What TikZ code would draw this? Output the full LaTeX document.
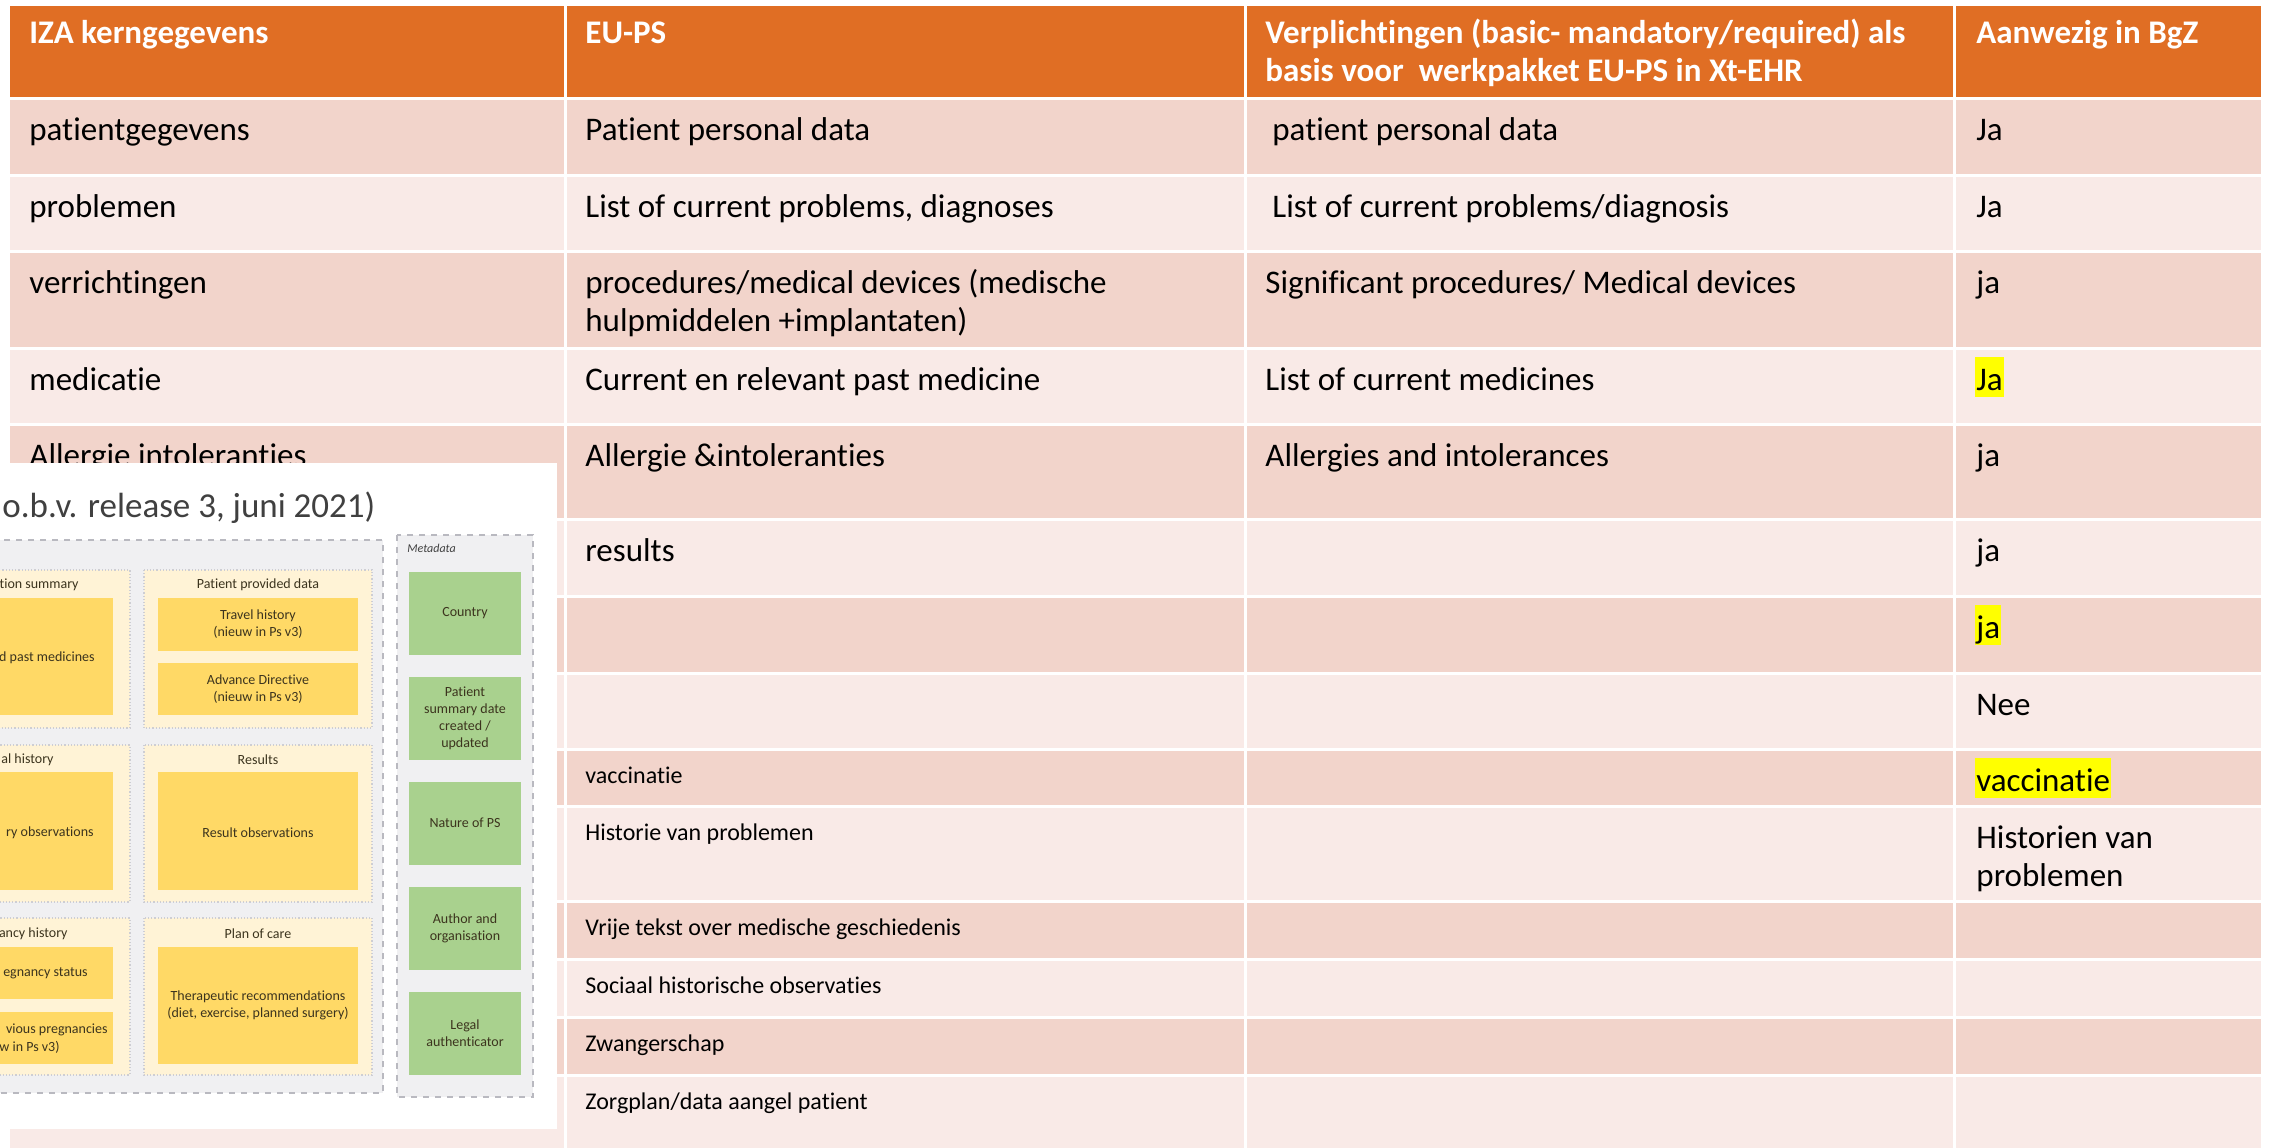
\documentclass[tikz,border=0pt]{standalone}
\usepackage{fontspec}
\setmainfont{Carlito}[Ligatures=CommonOff]
\usetikzlibrary{positioning}
\definecolor{kop}{RGB}{224,110,36}
\definecolor{rijdonker}{RGB}{242,212,203}
\definecolor{rijlicht}{RGB}{249,234,231}
\definecolor{markeer}{RGB}{255,255,0}
\definecolor{vlakgrijs}{RGB}{240,240,242}
\definecolor{vlakroom}{RGB}{255,243,214}
\definecolor{geel}{RGB}{255,217,102}
\definecolor{groen}{RGB}{169,209,142}
\definecolor{rand}{RGB}{185,185,192}
\definecolor{inkt}{RGB}{60,52,30}
\definecolor{titelgrijs}{RGB}{64,64,64}

\tikzset{
  kopje/.style={anchor=base west,inner sep=0pt,align=left,text=white,font=\bfseries\fontsize{16.5}{19}\selectfont},
  cel/.style={anchor=base west,inner sep=0pt,align=left,font=\fontsize{16.5}{19}\selectfont},
  celklein/.style={anchor=base west,inner sep=0pt,font=\fontsize{12}{14}\selectfont},
  markering/.style={fill=markeer,inner xsep=0.5pt,inner ysep=0pt,text height=16.5pt,text depth=3.5pt},
  blok/.style={inner sep=0pt,align=center,text=inkt,font=\fontsize{7}{8.5}\selectfont},
  panel/.style={fill=vlakgrijs,draw=rand,dashed,line width=0.6pt},
  room/.style={fill=vlakroom,draw=rand!70,densely dotted,line width=0.6pt},
}

\begin{document}
\begin{tikzpicture}[x=0.5pt,y=-0.5pt]
\useasboundingbox (0,0) rectangle (2270,1147);
\clip (0,0) rectangle (2270,1147);

% kopregel en rijen
\foreach \links/\rechts in {10/564,567/1244,1247/1953,1956/2261}{
  \fill[kop] (\links,6) rectangle (\rechts,97);
  \foreach \boven/\onder/\kleur in {100/174/rijdonker,177/250/rijlicht,253/347/rijdonker,
      350/423/rijlicht,426/518/rijdonker,521/595/rijlicht,598/672/rijdonker,675/748/rijlicht,
      751/805/rijdonker,808/900/rijlicht,903/958/rijdonker,961/1016/rijlicht,
      1019/1074/rijdonker,1077/1160/rijlicht}
    \fill[\kleur] (\links,\boven) rectangle (\rechts,\onder);
}

% tekst met twee regels: basislijn van de laatste regel
\node[kopje] (k1) at (29,43) {IZA kerngegevens};
\node[kopje] (k2) at (585,43) {EU-PS};
\node[kopje] (k3) at (1265,81) {Verplichtingen (basic- mandatory/required) als\\basis voor\ \ werkpakket EU-PS in Xt-EHR};
\node[kopje] (k4) at (1976,43) {Aanwezig in BgZ};

% IZA
\node[cel] (a1) at (29,140) {patientgegevens};
\node[cel] (a2) at (29,217) {problemen};
\node[cel] (a3) at (29,293) {verrichtingen};
\node[cel] (a4) at (29,390) {medicatie};
\node[cel] (a5) at (29,466) {Allergie intoleranties};

% EU-PS
\node[cel] (b1) at (585,140) {Patient personal data};
\node[cel] (b2) at (585,217) {List of current problems, diagnoses};
\node[cel] (b3) at (585,331) {procedures/medical devices (medische\\hulpmiddelen +implantaten)};
\node[cel] (b4) at (585,390) {Current en relevant past medicine};
\node[cel] (b5) at (585,466) {Allergie \&intoleranties};
\node[cel] (b6) at (585,561) {results};
\node[celklein] (b9) at (585,783) {vaccinatie};
\node[celklein] (b10) at (585,840) {Historie van problemen};
\node[celklein] (b11) at (585,935) {Vrije tekst over medische geschiedenis};
\node[celklein] (b12) at (585,993) {Sociaal historische observaties};
\node[celklein] (b13) at (585,1051) {Zwangerschap};
\node[celklein] (b14) at (585,1109) {Zorgplan/data aangel patient};

% verplichtingen
\node[cel] (c1) at (1272,140) {patient personal data};
\node[cel] (c2) at (1272,217) {List of current problems/diagnosis};
\node[cel] (c3) at (1265,293) {Significant procedures/ Medical devices};
\node[cel] (c4) at (1265,390) {List of current medicines};
\node[cel] (c5) at (1265,466) {Allergies and intolerances};

% aanwezig in BgZ
\node[cel] (d1) at (1976,140) {Ja};
\node[cel] (d2) at (1976,217) {Ja};
\node[cel] (d3) at (1976,293) {ja};
\node[cel,markering] (d4) at (1975,390) {Ja};
\node[cel] (d5) at (1976,466) {ja};
\node[cel] (d6) at (1976,561) {ja};
\node[cel,markering] (d7) at (1975,638) {ja};
\node[cel] (d8) at (1976,715) {Nee};
\node[cel,markering] (d9) at (1975,791) {vaccinatie};
\node[cel] (d10) at (1976,886) {Historien van\\problemen};

% ingevoegde schermafbeelding
\fill[white] (0,463) rectangle (557,1129);
\begin{scope}
\clip (0,463) rectangle (557,1129);
\node[anchor=base west,inner sep=0pt,text=titelgrijs,font=\fontsize{17.5}{20}\selectfont] (titel) at (2,517) {o.b.v. release 3, juni 2021)};
\filldraw[panel] (-10,540) rectangle (383,1093);
\filldraw[panel] (397,535) rectangle (533,1097);
\node[anchor=west,inner sep=0pt,text=titelgrijs,font=\itshape\fontsize{6}{7}\selectfont] (meta) at (407,548) {Metadata};

\foreach \boven/\onder in {570/728,745/902,918/1075}{
  \filldraw[room] (-10,\boven) rectangle (130,\onder);
  \filldraw[room] (144,\boven) rectangle (372,\onder);
}
\fill[geel] (-10,598) rectangle (113,715);
\fill[geel] (158,598) rectangle (358,651);
\fill[geel] (158,663) rectangle (358,715);
\fill[geel] (-10,772) rectangle (113,890);
\fill[geel] (158,772) rectangle (358,890);
\fill[geel] (-10,947) rectangle (113,999);
\fill[geel] (-10,1012) rectangle (113,1064);
\fill[geel] (158,947) rectangle (358,1064);
\foreach \boven in {572,677,782,887,992}
  \fill[groen] (409,\boven) rectangle (521,\boven+83);

\node[blok,anchor=east] (s1) at (79,585) {ation summary};
\node[blok,anchor=east] (s2) at (95,658) {d past medicines};
\node[blok] (p1) at (258,585) {Patient provided data};
\node[blok] (p2) at (258,624) {Travel history\\(nieuw in Ps v3)};
\node[blok] (p3) at (258,689) {Advance Directive\\(nieuw in Ps v3)};
\node[blok,anchor=east] (h1) at (54,760) {al history};
\node[blok,anchor=east] (h2) at (94,833) {ry observations};
\node[blok] (r1) at (258,760) {Results};
\node[blok] (r2) at (258,833) {Result observations};
\node[blok,anchor=east] (z1) at (68,934) {ancy history};
\node[blok,anchor=east] (z2) at (88,973) {egnancy status};
\node[blok,anchor=east] (z3) at (108,1030) {vious pregnancies};
\node[blok,anchor=east] (z4) at (60,1047) {w in Ps v3)};
\node[blok] (v1) at (258,934) {Plan of care};
\node[blok] (v2) at (258,1005) {Therapeutic recommendations\\(diet, exercise, planned surgery)};
\node[blok] (m1) at (465,613) {Country};
\node[blok] (m2) at (465,718) {Patient\\summary date\\created /\\updated};
\node[blok] (m3) at (465,823) {Nature of PS};
\node[blok] (m4) at (465,928) {Author and\\organisation};
\node[blok] (m5) at (465,1033) {Legal\\authenticator};
\end{scope}
\end{tikzpicture}
\end{document}
